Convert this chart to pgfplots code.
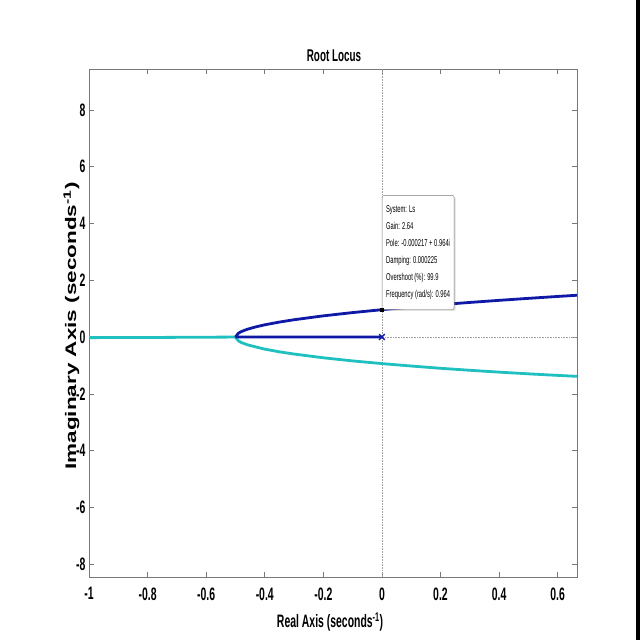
\documentclass[border=0pt]{standalone}
\usepackage{pgfplots}
\pgfplotsset{compat=1.18}
\usepackage{fontspec}
\usepackage{graphicx}
\setmainfont{Liberation Sans}
\newfontfamily\nf{Liberation Sans}[FakeStretch=0.58]
\usetikzlibrary{shadows}
\definecolor{locblue}{RGB}{15,25,165}
\definecolor{loccyan}{RGB}{32,192,192}
\definecolor{boxgray}{RGB}{120,120,120}
\begin{document}
\begin{tikzpicture}
\path[fill=white] (0pt,0pt) rectangle (640pt,640pt);
\fill[black] (636pt,0pt) rectangle (640pt,640pt);
\begin{axis}[
  at={(89pt,63pt)}, anchor=south west,
  scale only axis, width=488pt, height=508pt,
  xmin=-1, xmax=0.666, ymin=-8.45, ymax=9.44,
  xtick={-1,-0.8,-0.6,-0.4,-0.2,0,0.2,0.4,0.6},
  xticklabels={-1,-0.8,-0.6,-0.4,-0.2,0,0.2,0.4,0.6},
  ytick={-8,-6,-4,-2,0,2,4,6,8},
  yticklabels={-8,-6,-4,-2,0,2,4,6,8},
  tick align=inside, major tick length=5pt,
  axis line style={boxgray, line width=0.6pt},
  every tick/.style={boxgray, line width=0.6pt},
  tick label style={font=\nf\bfseries\fontsize{18}{18}\selectfont, black},
  xticklabel style={yshift=-7pt},
  /pgf/number format/assume math mode=true,
  title={\nf\bfseries\fontsize{17}{17}\selectfont Root Locus},
  title style={at={(axis description cs:0.502,1.014)}, anchor=center},
  xlabel={\nf\bfseries\fontsize{18}{18}\selectfont Real Axis (seconds\textsuperscript{-1})},
  xlabel style={at={(axis description cs:0.494,-0.0886)}, anchor=center},
  ylabel={\scalebox{1}[0.68]{\bfseries\fontsize{22.5}{22.5}\selectfont Imaginary Axis (seconds\textsuperscript{-1})}},
  ylabel style={at={(axis description cs:-0.036,0.494)}, anchor=center},
  clip=true,
]
% dotted zero lines
\addplot[boxgray!70, densely dotted, line width=0.6pt] coordinates {(0,-8.45) (0,9.44)};
\addplot[boxgray!70, densely dotted, line width=0.6pt] coordinates {(-1,0) (0.666,0)};
% cyan branch: real axis from -1 to breakaway, then lower branch
\addplot[loccyan, line width=2.8pt, line join=round] coordinates {
 (-1,-0.02) (-0.8,-0.015) (-0.6,-0.005) (-0.5,0)
};
\addplot[loccyan, line width=2.8pt, line join=round] coordinates {
 (-0.5,0) (-0.49,-0.136) (-0.48,-0.192) (-0.46,-0.27) (-0.43,-0.35) (-0.4,-0.425)
 (-0.35,-0.52) (-0.3,-0.598) (-0.2,-0.73) (-0.1,-0.84) (0,-0.935) (0.1,-1.02)
 (0.2,-1.1) (0.3,-1.17) (0.4,-1.235) (0.5,-1.295) (0.6,-1.35) (0.67,-1.385)
};
% blue branch: from pole at 0 to breakaway, then upper branch
\addplot[locblue, line width=2.8pt, line join=round] coordinates {
 (0,0.005) (-0.25,0.003) (-0.5,0)
};
\addplot[locblue, line width=2.8pt, line join=round] coordinates {
 (-0.5,0) (-0.49,0.136) (-0.48,0.193) (-0.46,0.273) (-0.43,0.36) (-0.4,0.431)
 (-0.35,0.528) (-0.3,0.61) (-0.2,0.747) (-0.1,0.862) (0,0.964) (0.1,1.056)
 (0.2,1.141) (0.3,1.219) (0.4,1.293) (0.5,1.363) (0.6,1.43) (0.67,1.475)
};
% open-loop pole
\addplot[locblue, only marks, mark=x, mark size=4pt, line width=1.4pt] coordinates {(0,0)};
% data tip point
\addplot[black, only marks, mark=square*, mark size=1.6pt] coordinates {(0,0.964)};
\node[anchor=south west, draw=boxgray, fill=white, rounded corners=2pt,
      drop shadow={opacity=0.25, shadow xshift=1.5pt, shadow yshift=-1.5pt},
      align=left, inner xsep=4pt, inner ysep=10pt,
      font=\nf\fontsize{10}{17}\selectfont]
  at (axis cs:0,0.964)
  {System: Ls\\Gain: 2.64\\Pole: -0.000217 + 0.964i\\Damping: 0.000225\\Overshoot (\%): 99.9\\Frequency (rad/s): 0.964};
\end{axis}
\end{tikzpicture}
\end{document}
